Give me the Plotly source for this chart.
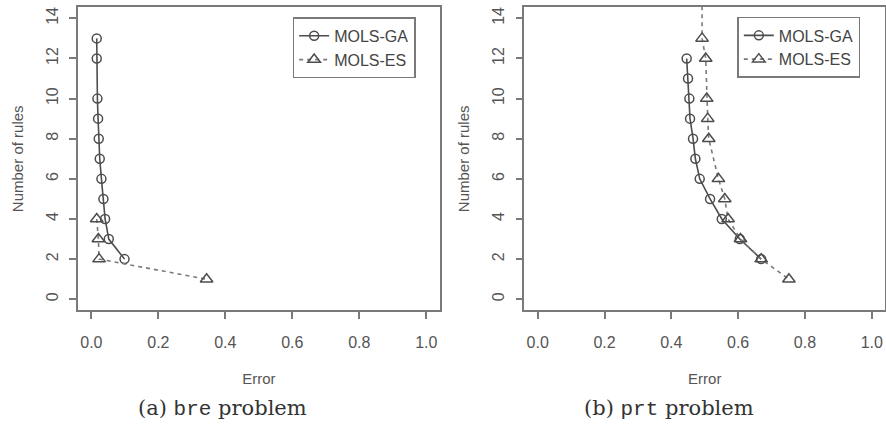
import plotly.graph_objects as go

# ---- data ----
x_ticks = [0.0, 0.2, 0.4, 0.6, 0.8, 1.0]
x_tick_labels = ["0.0", "0.2", "0.4", "0.6", "0.8", "1.0"]
y_ticks = [0, 2, 4, 6, 8, 10, 12, 14]
y_tick_labels = ["0", "2", "4", "6", "8", "10", "12", "14"]

series_names = ["MOLS-GA", "MOLS-ES"]

bre_ga_rules = [13, 12, 10, 9, 8, 7, 6, 5, 4, 3, 2]
bre_ga_error = [0.016, 0.016, 0.018, 0.020, 0.022, 0.025, 0.030, 0.036, 0.041, 0.052, 0.099]
bre_es_rules = [4, 3, 2, 1]
bre_es_error = [0.016, 0.021, 0.023, 0.344]

prt_ga_rules = [12, 11, 10, 9, 8, 7, 6, 5, 4, 3, 2]
prt_ga_error = [0.446, 0.450, 0.454, 0.456, 0.465, 0.472, 0.485, 0.516, 0.551, 0.605, 0.669]
prt_es_rules = [15, 13, 12, 10, 9, 8, 6, 5, 4, 3, 2, 1]
prt_es_error = [0.492, 0.492, 0.503, 0.506, 0.509, 0.512, 0.541, 0.560, 0.570, 0.607, 0.669, 0.752]

captions = ['(a) <span style="font-family:\'Liberation Mono\'">bre</span> problem',
            '(b) <span style="font-family:\'Liberation Mono\'">prt</span> problem']

# ---- styles ----
GA_COLOR = "#4d4d4d"
ES_COLOR = "#7a7a7a"
AXIS_COLOR = "#7a7a7a"
TEXT_COLOR = "#555555"
SANS = "Liberation Sans, Arial, sans-serif"
SERIF = "DejaVu Serif, serif"

fig = go.Figure()

def add_pair(ga_x, ga_y, es_x, es_y, xa, ya, legend):
    fig.add_trace(go.Scatter(
        x=ga_x, y=ga_y, mode="lines+markers", name=series_names[0],
        xaxis=xa, yaxis=ya, legend=legend,
        line=dict(color=GA_COLOR, width=1.6),
        marker=dict(symbol="circle-open", size=9, color=GA_COLOR, line=dict(width=1.5)),
    ))
    fig.add_trace(go.Scatter(
        x=es_x, y=es_y, mode="lines+markers", name=series_names[1],
        xaxis=xa, yaxis=ya, legend=legend,
        line=dict(color=ES_COLOR, width=1.6, dash="4px,4px"),
        marker=dict(symbol="triangle-up-open", size=11, color=GA_COLOR, line=dict(width=1.5)),
    ))

add_pair(bre_ga_error, bre_ga_rules, bre_es_error, bre_es_rules, "x", "y", "legend")
add_pair(prt_ga_error, prt_ga_rules, prt_es_error, prt_es_rules, "x2", "y2", "legend2")

axis_common = dict(
    showline=True, mirror=True, linecolor=AXIS_COLOR, linewidth=1.5,
    ticks="outside", ticklen=7, tickwidth=1.5, tickcolor=AXIS_COLOR,
    showgrid=False, zeroline=False, automargin=False,
    tickfont=dict(family=SANS, size=16, color=TEXT_COLOR),
)
xcommon = dict(axis_common, range=[-0.04, 1.04], tickvals=x_ticks, ticktext=x_tick_labels,
               ticklabelstandoff=10,
               title=dict(text="Error", font=dict(family=SANS, size=15, color=TEXT_COLOR), standoff=23))
ycommon = dict(axis_common, range=[-0.56, 14.56], tickvals=y_ticks, ticktext=y_tick_labels,
               tickangle=-90, ticklabelstandoff=5,
               title=dict(text="Number of rules", font=dict(family=SANS, size=15, color=TEXT_COLOR), standoff=17))

ydom = [0.2677, 0.9833]
fig.update_layout(
    width=886, height=424,
    margin=dict(l=0, r=0, t=0, b=0),
    paper_bgcolor="white", plot_bgcolor="white",
    xaxis=dict(xcommon, domain=[0.0880, 0.4963], anchor="y"),
    yaxis=dict(ycommon, domain=ydom, anchor="x"),
    xaxis2=dict(xcommon, domain=[0.5918, 0.9990], anchor="y2"),
    yaxis2=dict(ycommon, domain=ydom, anchor="x2"),
    legend=dict(x=0.3303, y=0.959, xanchor="left", yanchor="top",
                bordercolor=AXIS_COLOR, borderwidth=1.5, bgcolor="white",
                font=dict(family=SANS, size=16, color="#444444")),
    legend2=dict(x=0.8322, y=0.960, xanchor="left", yanchor="top",
                 bordercolor=AXIS_COLOR, borderwidth=1.5, bgcolor="white",
                 font=dict(family=SANS, size=16, color="#444444")),
    showlegend=True,
)

for cx, text in zip([0.2506, 0.755], captions):
    fig.add_annotation(x=cx, y=0.0377, xref="paper", yref="paper", text=text,
                       showarrow=False, xanchor="center", yanchor="middle",
                       font=dict(family=SERIF, size=21, color="#333333"))

fig.write_html("out.html", config={"displayModeBar": False},
               post_script="document.body.style.margin='0';document.body.style.overflow='hidden';")
